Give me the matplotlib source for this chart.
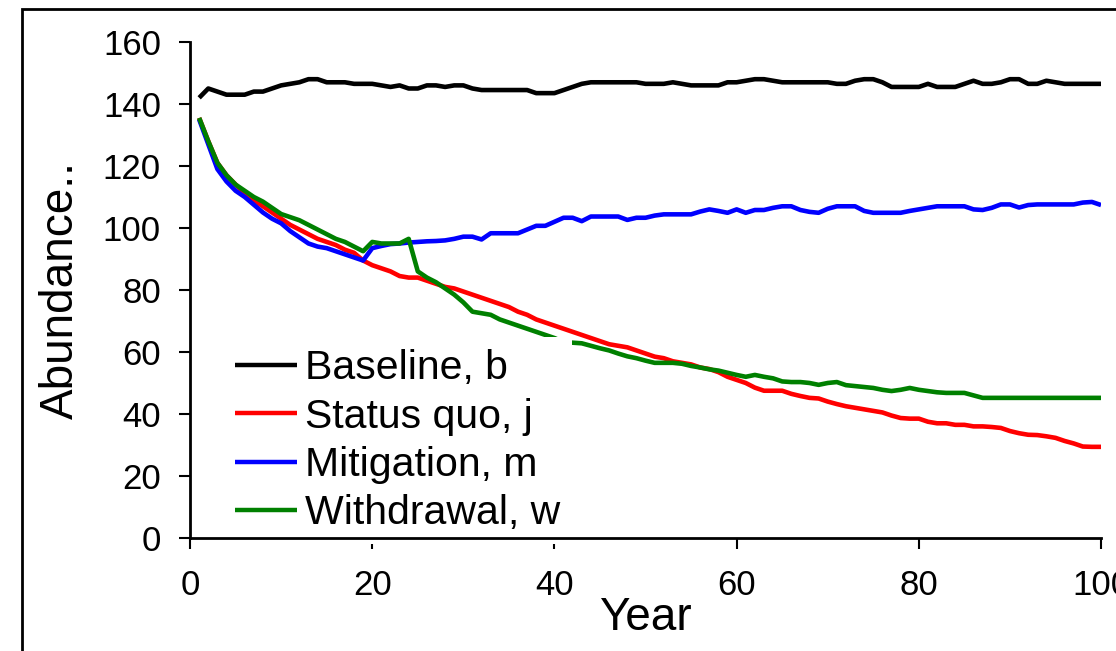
import matplotlib
matplotlib.use("Agg")
import matplotlib.pyplot as plt
from matplotlib.patches import Rectangle

plt.rcParams['font.family'] = ['Liberation Sans', 'DejaVu Sans']

years = list(range(1, 101))

baseline = [142, 145, 144, 143, 143, 143, 144, 144, 145, 146,
            146.5, 147, 148, 148, 147, 147, 147, 146.5, 146.5, 146.5,
            146, 145.5, 146, 145, 145, 146, 146, 145.5, 146, 146,
            145, 144.5, 144.5, 144.5, 144.5, 144.5, 144.5, 143.5, 143.5, 143.5,
            144.5, 145.5, 146.5, 147, 147, 147, 147, 147, 147, 146.5,
            146.5, 146.5, 147, 146.5, 146, 146, 146, 146, 147, 147,
            147.5, 148, 148, 147.5, 147, 147, 147, 147, 147, 147,
            146.5, 146.5, 147.5, 148, 148, 147, 145.5, 145.5, 145.5, 145.5,
            146.5, 145.5, 145.5, 145.5, 146.5, 147.5, 146.5, 146.5, 147, 148,
            148, 146.5, 146.5, 147.5, 147, 146.5, 146.5, 146.5, 146.5, 146.5]

status_quo = [135.5, 128, 121, 117, 114, 111, 109, 107, 105, 103,
              101, 99.5, 98, 96.5, 95.5, 94.5, 93, 92, 89.5, 88,
              87, 86, 84.5, 84, 84, 83, 82, 81, 80.5, 79.5,
              78.5, 77.5, 76.5, 75.5, 74.5, 73, 72, 70.5, 69.5, 68.5,
              67.5, 66.5, 65.5, 64.5, 63.5, 62.5, 62, 61.5, 60.5, 59.5,
              58.5, 58, 57, 56.5, 56, 55, 54.5, 53.5, 52, 51,
              50, 48.5, 47.5, 47.5, 47.5, 46.5, 45.8, 45.2, 45, 44,
              43.2, 42.5, 42, 41.5, 41, 40.5, 39.5, 38.7, 38.5, 38.5,
              37.5, 37, 37, 36.5, 36.5, 36, 36, 35.8, 35.5, 34.5,
              33.8, 33.3, 33.2, 32.8, 32.3, 31.3, 30.5, 29.5, 29.4, 29.4]

mitigation = [135, 127, 119, 115, 112, 110, 107.5, 105, 103, 101.5,
              99, 97, 95, 94, 93.5, 92.5, 91.5, 90.5, 89.5, 93.5,
              94.2, 94.8, 95, 95.3, 95.5, 95.7, 95.8, 96, 96.5, 97.2,
              97.2, 96.3, 98.3, 98.3, 98.3, 98.3, 99.5, 100.7, 100.7, 102,
              103.3, 103.3, 102.2, 103.7, 103.7, 103.7, 103.7, 102.6, 103.3, 103.3,
              104, 104.4, 104.4, 104.4, 104.4, 105.3, 106, 105.5, 104.9, 106,
              104.9, 105.8, 105.8, 106.5, 107, 107, 105.8, 105.2, 104.9, 106.2,
              107, 107, 107, 105.5, 104.9, 104.9, 104.9, 104.9, 105.5, 106,
              106.5, 107, 107, 107, 107, 106, 105.8, 106.5, 107.6, 107.6,
              106.6, 107.4, 107.6, 107.6, 107.6, 107.6, 107.6, 108.2, 108.4, 107.4]

withdrawal = [135.5, 128, 121, 117, 114, 112, 110, 108.5, 106.5, 104.5,
              103.5, 102.5, 101, 99.5, 98, 96.5, 95.5, 94, 92.5, 95.5,
              95, 95, 95, 96.5, 86, 84, 82.5, 80.5, 78.5, 76,
              73, 72.5, 72, 70.5, 69.5, 68.5, 67.5, 66.5, 65.5, 64.5,
              63.2, 63, 62.8, 62, 61.2, 60.5, 59.5, 58.6, 58, 57.2,
              56.5, 56.5, 56.5, 56.2, 55.5, 55, 54.4, 54, 53.3, 52.6,
              52, 52.6, 52, 51.5, 50.5, 50.3, 50.3, 50, 49.4, 50,
              50.3, 49.3, 49, 48.7, 48.4, 47.8, 47.4, 47.8, 48.4, 47.8,
              47.4, 47, 46.8, 46.8, 46.8, 46, 45.2, 45.2, 45.2, 45.2,
              45.2, 45.2, 45.2, 45.2, 45.2, 45.2, 45.2, 45.2, 45.2, 45.2]

labels = ['Baseline, b', 'Status quo, j', 'Mitigation, m', 'Withdrawal, w']
colors = ['black', '#ff0000', '#0000ff', '#008000']

fig = plt.figure(figsize=(11.16, 6.51), dpi=100)
ax = fig.add_axes([0.1703, 0.1736, 0.8163, 0.7619])

for vals, lab, col in zip([baseline, status_quo, mitigation, withdrawal], labels, colors):
    ax.plot(years, vals, color=col, lw=3.3, label=lab, solid_capstyle='butt')

ax.set_xlim(0, 100)
ax.set_ylim(0, 160)
ax.set_xticks([0, 20, 40, 60, 80, 100])
ax.set_yticks(range(0, 161, 20))
ax.spines['top'].set_visible(False)
ax.spines['right'].set_visible(False)
ax.spines['left'].set_linewidth(2)
ax.spines['bottom'].set_linewidth(2)
ax.tick_params(axis='both', direction='out', length=8, width=1.5, labelsize=25)
ax.tick_params(axis='x', pad=14)
ax.tick_params(axis='y', pad=13)

ax.set_xlabel('Year', fontsize=33, va='baseline')
ax.xaxis.set_label_coords(0.5, -0.1855)
ax.set_ylabel('Abundance..', fontsize=33, va='center')
ax.yaxis.set_label_coords(-0.1416, 0.5)

leg = ax.legend(loc='upper left', bbox_to_anchor=(0.036, 0.405), borderaxespad=0,
                fontsize=29.5, frameon=True, framealpha=1, facecolor='white',
                edgecolor='none', fancybox=False, borderpad=0.3,
                handlelength=1.5, handletextpad=0.2, labelspacing=0.25)
leg.set_zorder(2.2)   # above the lines, under spines and ticks
for h in leg.get_lines():
    h.set_linewidth(3.2)

# outer frame around the figure
fig.patches.append(Rectangle((22 / 1116, -0.05), 1.1, 1 - 9 / 651 + 0.05,
                             transform=fig.transFigure, fill=False,
                             lw=2, edgecolor='black', clip_on=False))

fig.savefig('out.png', dpi=100)
